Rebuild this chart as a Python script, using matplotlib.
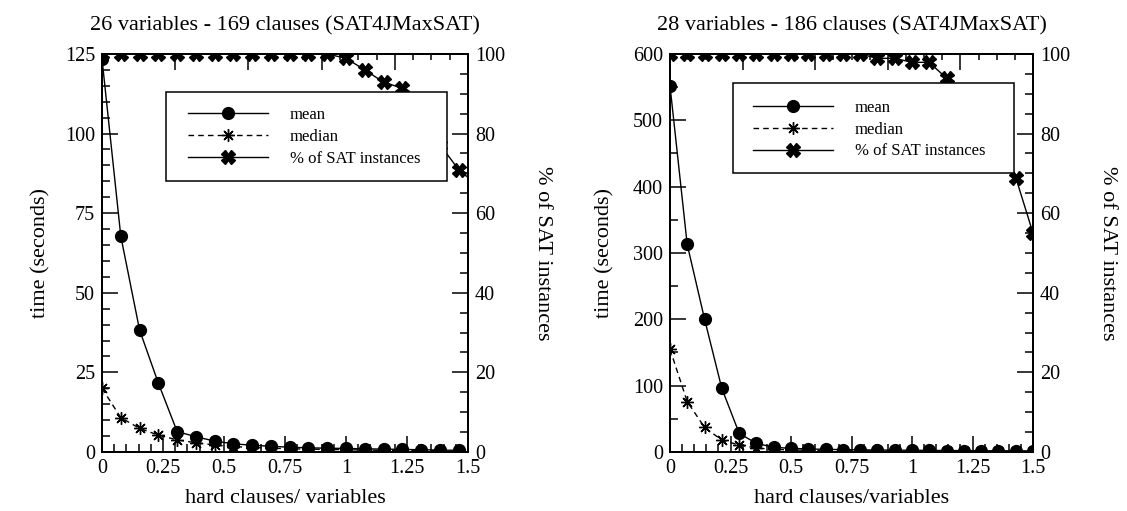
# Two SAT4JMaxSAT runtime panels: mean/median time on the left axis,
# % of SAT instances on a twin right axis.
import matplotlib.pyplot as plt
from matplotlib.patches import Rectangle
from matplotlib.ticker import MultipleLocator, NullFormatter

plt.rcParams['font.family'] = ['Liberation Serif', 'DejaVu Serif']

# --- 26 variables / 169 clauses ---
x26 = [0, 0.077, 0.154, 0.231, 0.308, 0.385, 0.462, 0.538, 0.615, 0.692, 0.769,
       0.846, 0.923, 1.0, 1.077, 1.154, 1.231, 1.308, 1.385, 1.462, 1.538]
mean26 = [123.5, 67.8, 38.3, 21.6, 6.4, 4.8, 3.4, 2.6, 2.1, 1.8, 1.5,
          1.3, 1.2, 1.1, 1.0, 0.9, 0.8, 0.7, 0.6, 0.5]
median26 = [20.0, 10.8, 7.4, 5.3, 3.8, 2.9, 2.2, 1.7, 1.4, 1.2, 1.0,
            0.9, 0.8, 0.7, 0.6, 0.5, 0.5, 0.4, 0.4, 0.3]
sat26 = [100, 100, 100, 100, 100, 100, 100, 100, 100, 100, 100,
         100, 100, 98.9, 96.0, 92.9, 91.4, 86.0, 77.2, 70.9, 67.0]

# --- 28 variables / 186 clauses ---
x28 = [0, 0.071, 0.143, 0.214, 0.286, 0.357, 0.429, 0.5, 0.571, 0.643, 0.714,
       0.786, 0.857, 0.929, 1.0, 1.071, 1.143, 1.214, 1.286, 1.357, 1.429, 1.5]
mean28 = [552, 313, 200, 96, 28, 13, 7, 5.5, 4.5, 4.0, 3.5,
          3.2, 3.0, 2.8, 2.6, 2.4, 2.2, 2.0, 1.9, 1.8, 1.7, 1.6]
median28 = [155, 76, 37, 18, 10.5, 6, 4, 3, 2.5, 2.2, 2.0,
            1.8, 1.6, 1.5, 1.4, 1.3, 1.2, 1.1, 1.0, 1.0, 0.9, 0.9]
sat28 = [100, 100, 100, 100, 100, 100, 100, 100, 100, 100, 100,
         100, 98.9, 98.9, 97.9, 97.9, 93.9, 90.0, 84.0, 77.0, 68.9, 55.0]

panels = [
    dict(x=x26, mean=mean26, median=median26, sat=sat26,
         title='26 variables - 169 clauses (SAT4JMaxSAT)', ymax=125, ymaj=25, ymin=5,
         xlabel='hard clauses/ variables', rect=[0.0905, 0.1155, 0.3248, 0.7789],
         box=(0.175, 0.681, 0.768, 0.2235), anchor=(0.235, 0.866), lpad_left=10),
    dict(x=x28, mean=mean28, median=median28, sat=sat28,
         title='28 variables - 186 clauses (SAT4JMaxSAT)', ymax=600, ymaj=100, ymin=50,
         xlabel='hard clauses/variables', rect=[0.5945, 0.1155, 0.3221, 0.7789],
         box=(0.1736, 0.701, 0.774, 0.226), anchor=(0.2287, 0.885), lpad_left=13),
]

fig = plt.figure(figsize=(11.27, 5.11), dpi=100)

FS = 14.5   # tick labels
LFS = 16    # titles and axis labels
for p in panels:
    ax = fig.add_axes(p['rect'])
    ax2 = ax.twinx()
    l1, = ax.plot(p['x'][:len(p['mean'])], p['mean'], color='black', lw=1.0,
                  marker='o', ms=8.5, label='mean')
    l2, = ax.plot(p['x'][:len(p['median'])], p['median'], color='black', lw=1.0, ls=(0, (4, 3)),
                  marker=(8, 2, 0), ms=9, mew=1.0, label='median')
    l3, = ax2.plot(p['x'], p['sat'], color='black', lw=1.0, marker='X', ms=10,
                   label='% of SAT instances')

    ax.set_xlim(0, 1.5)
    ax.set_ylim(0, p['ymax'])
    ax2.set_ylim(0, 100)

    ax.xaxis.set_major_locator(MultipleLocator(0.25))
    ax.xaxis.set_minor_locator(MultipleLocator(0.05))
    ax.yaxis.set_major_locator(MultipleLocator(p['ymaj']))
    ax.yaxis.set_minor_locator(MultipleLocator(p['ymin']))
    ax2.yaxis.set_major_locator(MultipleLocator(20))
    ax2.yaxis.set_minor_locator(MultipleLocator(5))
    ax.xaxis.set_major_formatter(lambda v, pos: f'{v:g}')

    ax.tick_params(which='both', direction='in', top=False, right=False, width=1.1,
                   labelsize=FS, pad=5)
    ax.tick_params(which='major', length=11.5)
    ax.tick_params(which='minor', length=5.8)
    ax2.tick_params(which='both', direction='in', width=1.1, labelsize=FS, pad=5)
    ax2.tick_params(which='major', length=11.5)
    ax2.tick_params(which='minor', length=5.8)

    # top axis has its own unlabeled ticks
    sec = ax.secondary_xaxis('top')
    sec.xaxis.set_major_locator(MultipleLocator(0.3))
    sec.xaxis.set_minor_locator(MultipleLocator(0.075))
    sec.xaxis.set_major_formatter(NullFormatter())
    sec.tick_params(which='both', direction='in', width=1.1)
    sec.tick_params(which='major', length=11.5)
    sec.tick_params(which='minor', length=4.5)
    for s in sec.spines.values():
        s.set_linewidth(1.4)

    for a in (ax, ax2):
        for s in a.spines.values():
            s.set_linewidth(1.4)

    ax.set_title(p['title'], fontsize=LFS, pad=17)
    ax.set_xlabel(p['xlabel'], fontsize=LFS, labelpad=8)
    ax.set_ylabel('time (seconds)', fontsize=LFS, labelpad=p['lpad_left'])
    ax2.set_ylabel('% of SAT instances', fontsize=LFS, rotation=-90, va='bottom', labelpad=20)

    # legend frame drawn by hand so the box can be wider than its contents
    bx, by, bw, bh = p['box']
    ax2.add_patch(Rectangle((bx, by), bw, bh, transform=ax2.transAxes, facecolor='white',
                            edgecolor='black', lw=1.1, zorder=9, clip_on=False))
    leg = ax2.legend(handles=[l1, l2, l3], loc='upper left', bbox_to_anchor=p['anchor'],
                     fontsize=12, frameon=False, handlelength=4.8, handletextpad=1.3,
                     labelspacing=0.35, borderpad=0, borderaxespad=0)
    leg.set_zorder(10)

fig.savefig('out.png', dpi=100)
